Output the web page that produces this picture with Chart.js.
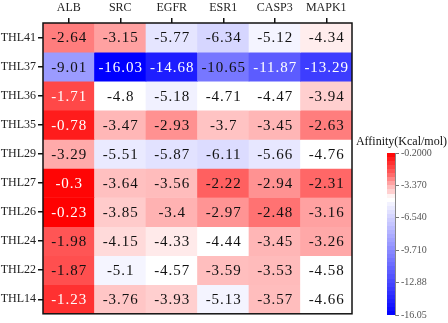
<!DOCTYPE html>
<html>
<head>
<meta charset="utf-8">
<script src="https://cdn.jsdelivr.net/npm/chart.js@4"></script>
<style>
  body { margin: 0; background: #fff; }
  #wrap { position: relative; width: 448px; height: 323px; }
  #heat { position: absolute; left: 0; top: 0; }
  #bar { position: absolute; left: 355px; top: 132px; }
</style>
</head>
<body>
<div id="wrap">
  <canvas id="heat" width="448" height="323"></canvas>
  <canvas id="bar" width="93" height="191"></canvas>
</div>
<script>
// compounds, top to bottom
const compounds = ['THL41', 'THL37', 'THL36', 'THL35', 'THL29', 'THL27', 'THL26', 'THL24', 'THL22', 'THL14'];
const targets = ['ALB', 'SRC', 'EGFR', 'ESR1', 'CASP3', 'MAPK1'];

// affinity per target, same order as compounds
const ALB   = [-2.64, -9.01, -1.71, -0.78, -3.29, -0.3, -0.23, -1.98, -1.87, -1.23];
const SRC   = [-3.15, -16.03, -4.8, -3.47, -5.51, -3.64, -3.85, -4.15, -5.1, -3.76];
const EGFR  = [-5.77, -14.68, -5.18, -2.93, -5.87, -3.56, -3.4, -4.33, -4.57, -3.93];
const ESR1  = [-6.34, -10.65, -4.71, -3.7, -6.11, -2.22, -2.97, -4.44, -3.59, -5.13];
const CASP3 = [-5.12, -11.87, -4.47, -3.45, -5.66, -2.94, -2.48, -3.45, -3.53, -3.57];
const MAPK1 = [-4.34, -13.29, -3.94, -2.63, -4.76, -2.31, -3.16, -3.26, -4.58, -4.66];

// colour bar range and ticks
const scaleTitle = 'Affinity(Kcal/mol)';
const scaleMin = -16.05;
const scaleMax = -0.2;
const scaleTicks = [-0.2, -3.37, -6.54, -9.71, -12.88, -16.05];

const columns = [ALB, SRC, EGFR, ESR1, CASP3, MAPK1];

// red - white - blue colour map
const redStops = [[-0.2, 0], [-2.2, 95], [-3.0, 150], [-3.5, 185], [-4.3, 225], [-4.4, 255]];
const blueStops = [[-4.9, 255], [-5.2, 240], [-5.8, 228], [-6.3, 215], [-16.05, 0]];

function interp(stops, v) {
    for (let i = 0; i < stops.length - 1; i++) {
        const [a, la] = stops[i];
        const [b, lb] = stops[i + 1];
        if (v <= a && v >= b) {
            return la + (lb - la) * (a - v) / (a - b);
        }
    }
    return v > stops[0][0] ? stops[0][1] : stops[stops.length - 1][1];
}

function colorOf(v) {
    if (v >= -4.4) {
        const l = Math.round(interp(redStops, v));
        return `rgb(255,${l},${l})`;
    }
    if (v >= -4.9) return 'rgb(255,255,255)';
    const l = Math.round(interp(blueStops, v));
    return `rgb(${l},${l},255)`;
}

const serif = '"Liberation Serif", "DejaVu Serif", serif';

const cellText = {
    id: 'cellText',
    afterDatasetsDraw(chart) {
        const {ctx} = chart;
        ctx.save();
        ctx.font = '15px ' + serif;
        ctx.letterSpacing = '1px';
        ctx.textAlign = 'center';
        ctx.textBaseline = 'middle';
        chart.data.datasets.forEach((ds, i) => {
            chart.getDatasetMeta(i).data.forEach((bar, j) => {
                const v = ds.data[j].v;
                const p = bar.getProps(['x', 'y', 'base'], true);
                ctx.fillStyle = (v > -1.8 || v < -11) ? '#fff' : '#111';
                ctx.fillText(String(v), p.x + 0.5, (p.y + p.base) / 2 + 1);
            });
        });
        ctx.restore();
    }
};

const frame = {
    id: 'frame',
    afterDraw(chart) {
        const {ctx, chartArea} = chart;
        ctx.save();
        ctx.strokeStyle = '#111';
        ctx.lineWidth = 1.5;
        ctx.strokeRect(chartArea.left, chartArea.top, chartArea.right - chartArea.left, chartArea.bottom - chartArea.top);
        ctx.restore();
    }
};

new Chart(document.getElementById('heat'), {
    type: 'bar',
    data: {
        labels: targets,
        datasets: compounds.map((name, i) => ({
            label: name,
            data: targets.map((t, j) => ({x: t, y: [i, i + 1], v: columns[j][i]})),
            backgroundColor: (c) => c.raw ? colorOf(c.raw.v) : '#fff',
            borderWidth: 0,
            barPercentage: 1,
            categoryPercentage: 1,
            grouped: false
        }))
    },
    options: {
        responsive: false,
        animation: false,
        devicePixelRatio: 1,
        layout: {padding: {left: 0, top: 0, right: 96, bottom: 4}},
        plugins: {legend: {display: false}, tooltip: {enabled: false}},
        scales: {
            x: {
                position: 'top',
                grid: {offset: false, drawOnChartArea: false, drawTicks: true, tickLength: 5, color: '#111', lineWidth: 1.5},
                border: {display: false},
                ticks: {font: {family: serif, size: 12}, color: '#222', padding: 3, maxRotation: 0},
                afterFit: (s) => { s.height = 23; }
            },
            y: {
                type: 'linear',
                min: 0,
                max: 10,
                reverse: true,
                grid: {drawOnChartArea: false, drawTicks: true, tickLength: 5, color: '#111', lineWidth: 1.5},
                border: {display: false},
                afterBuildTicks: (s) => { s.ticks = compounds.map((c, i) => ({value: i + 0.5})); },
                ticks: {
                    font: {family: serif, size: 12},
                    color: '#222',
                    padding: 2,
                    autoSkip: false,
                    callback: (val) => compounds[Math.floor(val)]
                },
                afterFit: (s) => { s.width = 43; }
            }
        }
    },
    plugins: [cellText, frame]
});

// colour bar
function barGradient(c) {
    const area = c.chart.chartArea;
    if (!area) return null;
    const g = c.chart.ctx.createLinearGradient(0, area.bottom, 0, area.top);
    const n = 40;
    for (let k = 0; k < n; k++) {
        const v = scaleMin + (scaleMax - scaleMin) * (k + 0.5) / n;
        const col = colorOf(v);
        g.addColorStop(k / n, col);
        g.addColorStop((k + 1) / n, col);
    }
    return g;
}

// title drawn by hand so it is not squeezed into the padded box
const barTitle = {
    id: 'barTitle',
    afterDraw(chart) {
        const {ctx} = chart;
        ctx.save();
        ctx.font = '12px ' + serif;
        ctx.fillStyle = '#111';
        ctx.textAlign = 'right';
        ctx.textBaseline = 'middle';
        ctx.fillText(scaleTitle, chart.width - 1, 10);
        ctx.restore();
    }
};

new Chart(document.getElementById('bar'), {
    type: 'bar',
    data: {
        labels: ['Affinity'],
        datasets: [{
            data: [[scaleMin, scaleMax]],
            backgroundColor: barGradient,
            borderWidth: 0,
            barPercentage: 1,
            categoryPercentage: 1
        }]
    },
    options: {
        responsive: false,
        animation: false,
        devicePixelRatio: 1,
        layout: {padding: {left: 32, top: 21, right: 0, bottom: 4}},
        plugins: {legend: {display: false}, tooltip: {enabled: false}},
        scales: {
            x: {display: false},
            y: {
                position: 'right',
                min: scaleMin,
                max: scaleMax,
                grid: {drawOnChartArea: false, tickLength: 4, color: '#777'},
                border: {color: '#888'},
                afterBuildTicks: (s) => { s.ticks = scaleTicks.map((v) => ({value: v})); },
                ticks: {
                    font: {family: serif, size: 10},
                    color: '#555',
                    padding: 2,
                    autoSkip: false,
                    callback: (val) => val.toPrecision(4)
                },
                afterFit: (s) => { s.width = 53; }
            }
        }
    },
    plugins: [barTitle]
});
</script>
</body>
</html>
